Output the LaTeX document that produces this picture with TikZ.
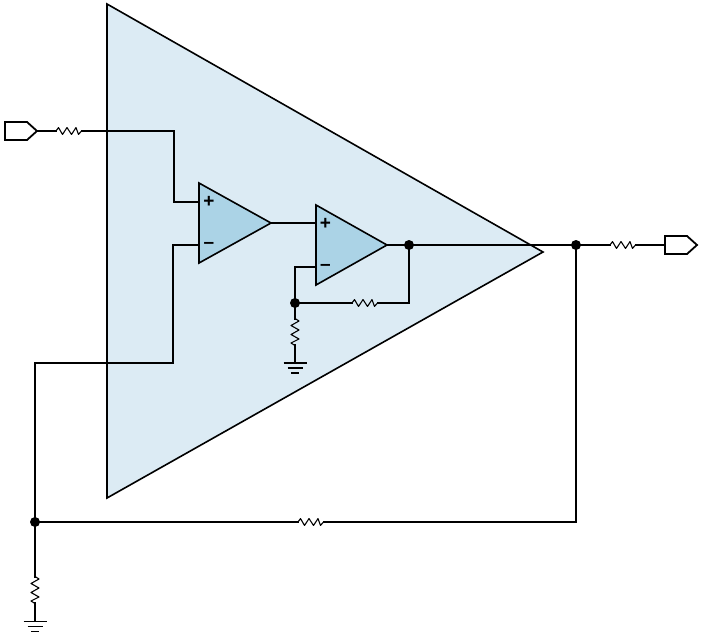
\documentclass[tikz,border=0pt]{standalone}
\usepackage{fontspec}
\setmainfont{Liberation Sans}
\definecolor{bigfill}{HTML}{DCEBF4}
\definecolor{ampfill}{HTML}{ABD3E6}
\tikzset{
  wire/.style={draw=black,line width=1.8pt,line join=miter},
  thinedge/.style={draw=black,line width=1.6pt,line join=miter},
  res/.style={draw=black,line width=1.1pt,line join=round},
  body/.style={thinedge,fill=bigfill},
  amp/.style={thinedge,fill=ampfill},
  port/.style={wire,fill=white},
  dot/.style={circle,fill=black,inner sep=0pt,minimum size=10pt},
  sign/.style={inner sep=0pt,font=\bfseries\fontsize{19}{19}\selectfont},
}
\newcommand{\hresistor}[1]{\draw[res] (#1) ++(-13,0) -- ++(2.5,-3.4) -- ++(4,6.8) -- ++(4.5,-6.8) -- ++(4.5,6.8) -- ++(4.5,-6.8) -- ++(2.5,6.8) -- ++(3,-3.4);}
\newcommand{\vresistor}[1]{\draw[res] (#1) ++(0,-13.5) -- ++(4,2.5) -- ++(-8,4.5) -- ++(8,4.5) -- ++(-8,4.5) -- ++(8,4.5) -- ++(-8,4) -- ++(4,2.5);}
\newcommand{\groundsym}[1]{
  \draw[wire] (#1) ++(-11.5,0) -- ++(23,0);
  \draw[wire] (#1) ++(-7.5,5) -- ++(15,0);
  \draw[wire] (#1) ++(-4,10) -- ++(8,0);
}
\begin{document}
\begin{tikzpicture}[x=1pt,y=-1pt]
\useasboundingbox (0,0) rectangle (702,635);
% outer amplifier
\draw[body] (107,4) -- (543,252) -- (107,498) -- cycle;
% coordinates
\coordinate (inport) at (37,131);
\coordinate (inres) at (69,131);
\coordinate (t1) at (174,131);
\coordinate (plus1) at (199,202);
\coordinate (t2) at (174,202);
\coordinate (minus1) at (199,245);
\coordinate (t3) at (173,245);
\coordinate (t4) at (173,363);
\coordinate (t5) at (35,363);
\coordinate (fbnode) at (35,522);
\coordinate (fbres) at (311,522);
\coordinate (t6) at (576,522);
\coordinate (outnode) at (576,245);
\coordinate (outres) at (623,245);
\coordinate (outport) at (665,245);
\coordinate (gndres1) at (35,590);
\coordinate (gnd1) at (35,621.5);
\coordinate (out1) at (271,223);
\coordinate (plus2) at (316,223);
\coordinate (out2) at (387,245);
\coordinate (minus2) at (316,267);
\coordinate (t7) at (295,267);
\coordinate (lfb) at (295,303);
\coordinate (lfbres) at (365,303);
\coordinate (t8) at (409,303);
\coordinate (lnode) at (409,245);
\coordinate (gndres2) at (295,332);
\coordinate (gnd2) at (295,363);
% wires
\draw[wire] (inport) -- (t1) -- (t2) -- (plus1);
\draw[wire] (minus1) -- (t3) -- (t4) -- (t5) -- (fbnode) -- (t6) -- (outnode);
\draw[wire] (fbnode) -- (gnd1);
\draw[wire] (out1) -- (plus2);
\draw[wire] (out2) -- (outport);
\draw[wire] (minus2) -- (t7) -- (lfb) -- (t8) -- (lnode);
\draw[wire] (lfb) -- (gnd2);
% resistors (mask the wire, then draw the zigzag)
\foreach \c/\bg in {inres/white,outres/white,fbres/white}{
  \fill[\bg] (\c) ++(-12,-2) rectangle ++(24,4);
  \hresistor{\c}
}
\fill[bigfill] (lfbres) ++(-12,-2) rectangle ++(24,4);
\hresistor{lfbres}
\fill[white] (gndres1) ++(-2,-12) rectangle ++(4,24);
\vresistor{gndres1}
\fill[bigfill] (gndres2) ++(-2,-12) rectangle ++(4,24);
\vresistor{gndres2}
% inner amplifiers
\draw[amp] (199,183) -- (271,223) -- (199,263) -- cycle;
\draw[amp] (316,205) -- (387,245) -- (316,285) -- cycle;
\node[sign] (p1) at (209,202) {+};
\node[sign] (m1) at (209,245) {–};
\node[sign] (p2) at (325.5,224) {+};
\node[sign] (m2) at (325.5,267) {–};
% ports
\draw[port] (5,122) -- (27,122) -- (inport) -- (27,140) -- (5,140) -- cycle;
\draw[port] (outport) ++(0,-9) -- ++(22,0) -- ++(10,9) -- ++(-10,9) -- ++(-22,0) -- cycle;
% dots
\node[dot] (d1) at (fbnode) {};
\node[dot] (d2) at (outnode) {};
\node[dot] (d3) at (lnode) {};
\node[dot] (d4) at (lfb) {};
% grounds
\groundsym{gnd1}
\groundsym{gnd2}
\end{tikzpicture}
\end{document}
